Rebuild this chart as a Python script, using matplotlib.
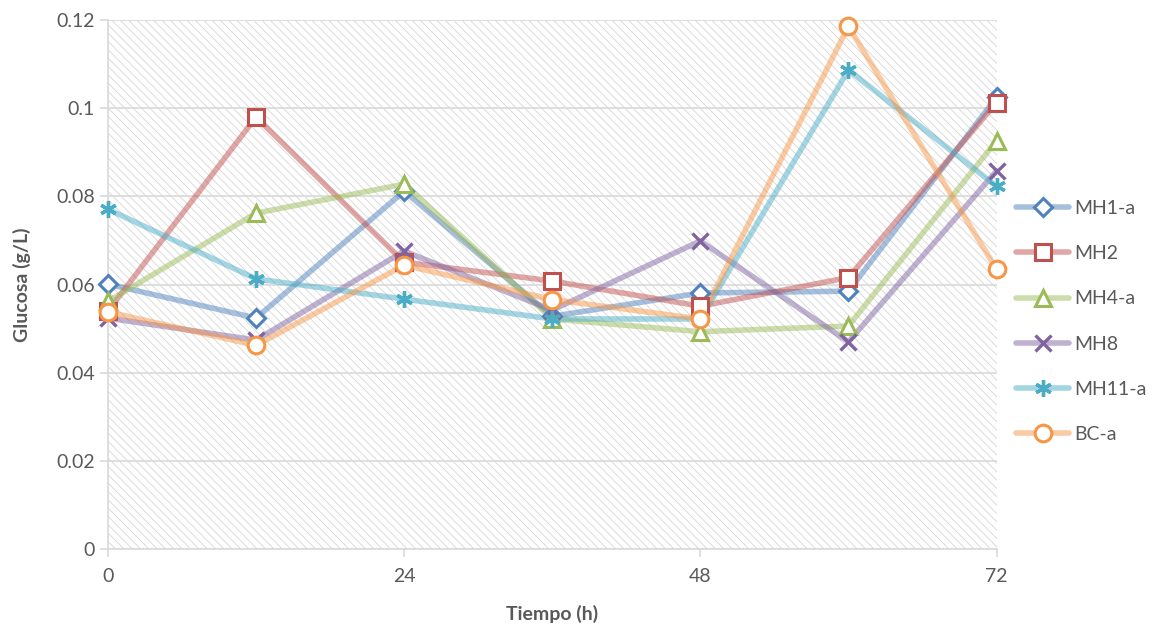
import matplotlib.pyplot as plt
from matplotlib.patches import Rectangle

plt.rcParams["font.family"] = ["Lato", "DejaVu Sans"]
plt.rcParams["hatch.linewidth"] = 0.6

hours = [0, 12, 24, 36, 48, 60, 72]

mh1_a = [0.0601, 0.0524, 0.0812, 0.0528, 0.0581, 0.0585, 0.1025]
mh2 = [0.0540, 0.0980, 0.0651, 0.0608, 0.0551, 0.0616, 0.1013]
mh4_a = [0.0562, 0.0762, 0.0828, 0.0522, 0.0493, 0.0506, 0.0926]
mh8 = [0.0524, 0.0474, 0.0676, 0.0542, 0.0699, 0.0470, 0.0858]
mh11_a = [0.0771, 0.0613, 0.0567, 0.0522, 0.0522, 0.1087, 0.0823]
bc_a = [0.0538, 0.0462, 0.0644, 0.0566, 0.0522, 0.1186, 0.0635]

series = [
    ("MH1-a", mh1_a, "#4F81BD", "D"),
    ("MH2", mh2, "#C0504D", "s"),
    ("MH4-a", mh4_a, "#9BBB59", "^"),
    ("MH8", mh8, "#8064A2", "x"),
    ("MH11-a", mh11_a, "#4BACC6", (6, 2, 0)),
    ("BC-a", bc_a, "#F79646", "o"),
]


def marker_style(mk, color):
    # open markers get a white face, line markers use the series colour
    if mk == "x" or isinstance(mk, tuple):
        return dict(marker=mk, markersize=12, markeredgecolor=color,
                    markerfacecolor=color, markeredgewidth=2.4)
    size = {"D": 9, "s": 12, "^": 12, "o": 12}[mk]
    return dict(marker=mk, markersize=size, markerfacecolor="white",
                markeredgecolor=color, markeredgewidth=2.2)


fig = plt.figure(figsize=(11.57, 6.31), dpi=100)
ax = fig.add_axes([0.0933, 0.130, 0.768, 0.838])

# hatched plot background
ax.add_patch(Rectangle((0, 0), 1, 1, transform=ax.transAxes, facecolor="white",
                       edgecolor="#d6d6d6", linewidth=0, hatch="\\\\\\\\",
                       zorder=0))

ax.set_ylim(0, 0.12)
ax.set_xlim(0, 72)
ax.set_yticks([0, 0.02, 0.04, 0.06, 0.08, 0.1, 0.12])
ax.set_yticklabels(["0", "0.02", "0.04", "0.06", "0.08", "0.1", "0.12"])
ax.set_xticks([0, 24, 48, 72])
ax.grid(axis="y", color="#d9d9d9", linewidth=1.2, zorder=1)

handles = []
for name, vals, color, mk in series:
    ax.plot(hours, vals, color=color, alpha=0.5, linewidth=4, zorder=2,
            solid_capstyle="round", clip_on=False)
    ax.plot(hours, vals, linestyle="none", zorder=3, clip_on=False,
            **marker_style(mk, color))
    # legend proxies: translucent line with solid marker
    h_line, = ax.plot([], [], color=color, alpha=0.5, linewidth=4,
                      solid_capstyle="round")
    h_mk, = ax.plot([], [], linestyle="none", **marker_style(mk, color))
    handles.append((h_line, h_mk))

ax.legend(handles, [s[0] for s in series], loc="center left",
          bbox_to_anchor=(1.007, 0.43), frameon=False, fontsize=14,
          labelspacing=1.45, handlelength=2.7, handletextpad=0.3,
          borderaxespad=0.3, labelcolor="#595959")

for side in ("top", "right"):
    ax.spines[side].set_visible(False)
for side in ("left", "bottom"):
    ax.spines[side].set_color("#d9d9d9")
    ax.spines[side].set_linewidth(1.2)
ax.tick_params(axis="both", colors="#d9d9d9", labelcolor="#595959",
               labelsize=14, length=6, width=1.2)
ax.tick_params(axis="x", pad=8)

ax.set_xlabel("Tiempo (h)", fontsize=14, fontweight="bold", color="#595959",
              labelpad=14)
ax.set_ylabel("Glucosa (g/L)", fontsize=14, fontweight="bold", color="#595959",
              labelpad=18)

fig.savefig("out.png", dpi=100)
